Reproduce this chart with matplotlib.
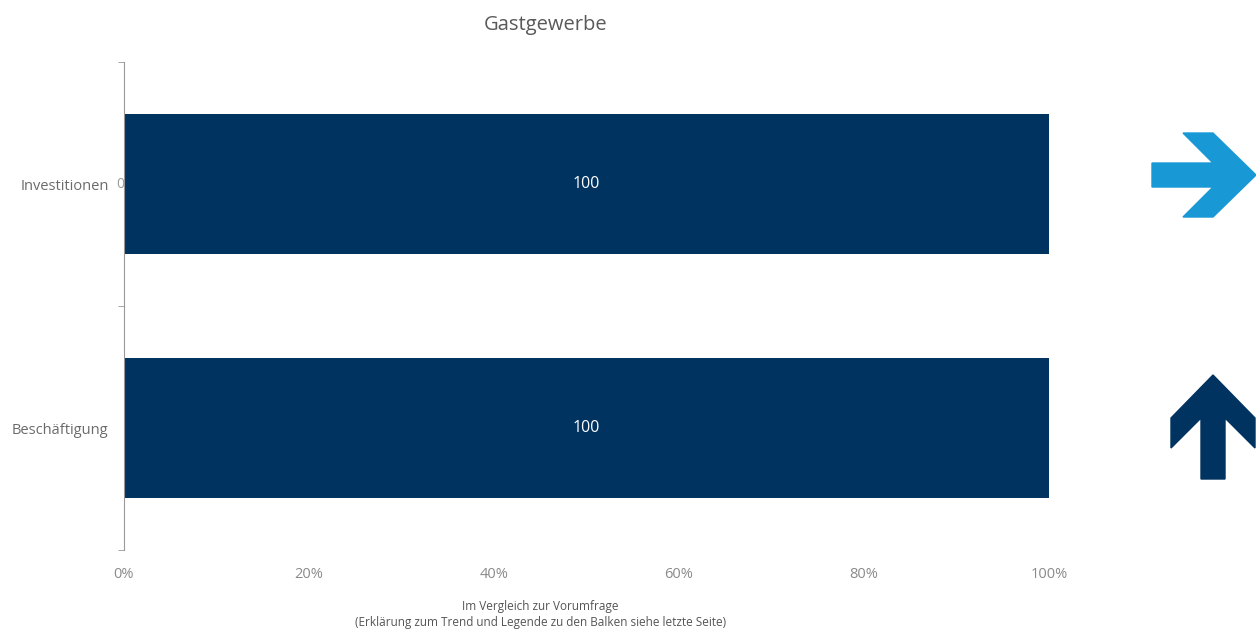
import matplotlib.pyplot as plt
from matplotlib.patches import Polygon
from matplotlib.transforms import IdentityTransform

# Werte je Kategorie (Anteile in %)
categories = ['Investitionen', 'Beschäftigung']
zero_share = [0, None]          # Segment ohne Anteil, nur Beschriftung
main_share = [100, 100]
trends = ['right', 'up']        # Trend im Vergleich zur Vorumfrage
x_ticks = [0, 20, 40, 60, 80, 100]
x_ticklabels = ['0%', '20%', '40%', '60%', '80%', '100%']

bar_color = '#00335f'
trend_colors = {'right': '#1898d5', 'up': '#00335f'}
text_gray = '#6b6b6b'

plt.rcParams['font.family'] = ['Open Sans', 'DejaVu Sans']

fig = plt.figure(figsize=(12.56, 6.42), dpi=100)
ax = fig.add_axes([0.0987, 0.1433, 0.7365, 0.7601])

pos = list(range(len(categories)))
ax.barh(pos, main_share, height=0.57, color=bar_color)
for p, v in zip(pos, main_share):
    ax.text(v / 2, p, str(v), ha='center', va='center', color='white', fontsize=11.5)
for p, v in zip(pos, zero_share):
    if v is not None:
        ax.text(v, p, str(v), ha='right', va='center', color='#9a9a9a', fontsize=10)

ax.set_xlim(0, 100)
ax.set_ylim(len(categories) - 0.5, -0.5)
ax.set_xticks(x_ticks)
ax.set_xticklabels(x_ticklabels)
ax.set_yticks(pos)
ax.set_yticklabels(categories)
ax.set_yticks([p - 0.5 for p in pos] + [pos[-1] + 0.5], minor=True)
ax.tick_params(axis='y', which='major', length=0, pad=11, labelsize=10.5, labelcolor=text_gray)
ax.tick_params(axis='y', which='minor', length=4, color='#999999')
ax.tick_params(axis='x', length=0, pad=12, labelsize=10.5, labelcolor='#8a8a8a')
for s in ['top', 'right', 'bottom']:
    ax.spines[s].set_visible(False)
ax.spines['left'].set_color('#999999')

fig.text(0.434, 0.961, 'Gastgewerbe', ha='center', va='center', fontsize=14.5, color='#595959')
fig.text(0.43, 0.056, 'Im Vergleich zur Vorumfrage', ha='center', va='center', fontsize=8.5, color='#555555')
fig.text(0.43, 0.030, '(Erklärung zum Trend und Legende zu den Balken siehe letzte Seite)',
         ha='center', va='center', fontsize=8.5, color='#555555')

# Trendpfeile rechts neben den Balken (Form in Pixeln um den Mittelpunkt)
right_arrow = [(-52, 12), (9, 12), (-21, 42), (9, 42), (52, 0),
               (9, -42), (-21, -42), (9, -12), (-52, -12)]
up_arrow = [(-y, x) for x, y in right_arrow]
shapes = {'right': right_arrow, 'up': up_arrow}
arrow_x = {'right': 1204, 'up': 1213}
arrow_dy = {'right': 9, 'up': 1}

fig.canvas.draw()
for p, t in zip(pos, trends):
    _, cy = ax.transData.transform((0, p))
    cx = arrow_x[t]
    pts = [(cx + dx, cy + arrow_dy[t] + dy) for dx, dy in shapes[t]]
    fig.patches.append(Polygon(pts, closed=True, color=trend_colors[t],
                               transform=IdentityTransform(), figure=fig))

fig.savefig('out.png', dpi=100)
